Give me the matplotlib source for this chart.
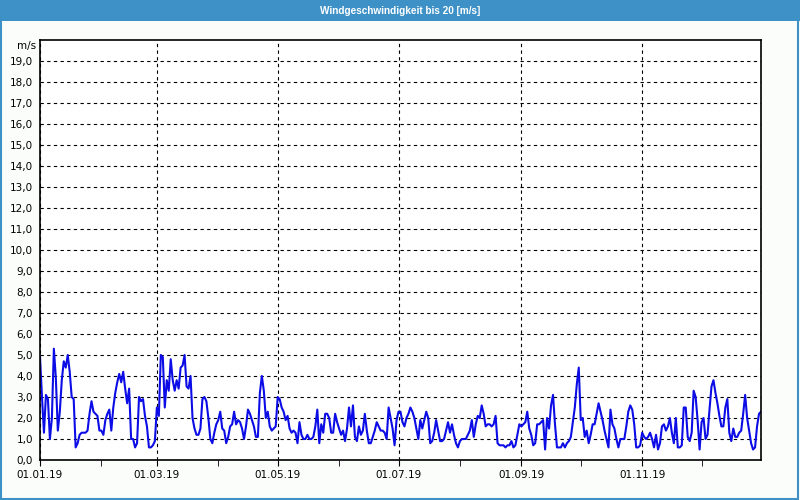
import numpy as np
import matplotlib
matplotlib.use('Agg')
import matplotlib.pyplot as plt
import matplotlib.dates as mdates
from matplotlib.patches import Rectangle

# Tageswerte Windgeschwindigkeit 2019 [m/s]
wind_speed = [
    4.9, 3.0, 1.3, 3.1, 2.9, 1.0, 2.0, 5.3, 3.9, 1.4,
    2.3, 3.8, 4.7, 4.4, 5.0, 4.2, 3.0, 2.9, 0.6, 0.8,
    1.2, 1.3, 1.3, 1.3, 1.4, 2.2, 2.8, 2.3, 2.2, 2.1,
    1.4, 1.4, 1.2, 1.9, 2.2, 2.4, 1.4, 2.5, 3.2, 3.7,
    4.1, 3.7, 4.2, 3.4, 2.7, 3.4, 1.0, 1.0, 0.6, 0.8,
    3.0, 2.8, 2.9, 2.1, 1.6, 0.6, 0.6, 0.7, 0.9, 2.5,
    2.1, 5.0, 4.9, 2.5, 3.8, 3.3, 4.8, 3.8, 3.3, 3.8,
    3.4, 4.4, 4.5, 5.0, 3.5, 3.4, 4.0, 2.0, 1.5, 1.2,
    1.2, 1.5, 2.9, 3.0, 2.8, 2.0, 1.0, 0.8, 1.3, 1.7,
    1.9, 2.3, 1.5, 1.4, 0.8, 1.1, 1.6, 1.7, 2.3, 1.7,
    1.9, 1.8, 1.5, 1.0, 1.6, 2.4, 2.2, 1.9, 1.6, 1.1,
    1.1, 3.2, 4.0, 3.3, 2.0, 2.3, 1.6, 1.4, 1.5, 1.6,
    3.0,
    2.9, 2.5, 2.3, 1.9, 2.1, 1.5, 1.3, 1.4, 1.3, 0.8,
    1.8, 1.2, 1.0, 1.0, 1.2, 1.0, 1.0, 1.1, 1.6, 2.4,
    0.8, 1.7, 1.3, 2.2, 2.2, 2.0, 1.3, 1.3, 2.2, 1.8,
    1.5, 1.2, 1.4, 0.9, 1.5, 2.5, 1.6, 2.6, 1.1, 0.9,
    1.6, 1.2, 1.4, 2.2, 1.4, 0.8, 0.8, 1.1, 1.4, 1.8,
    1.6, 1.4, 1.4, 1.3, 1.0, 2.5, 2.0, 1.5, 0.7, 1.9,
    2.3,
    2.3, 1.8, 1.6, 2.0, 2.2, 2.5, 2.3, 2.0, 1.5, 1.0,
    1.9, 1.5, 1.9, 2.3, 2.0, 0.8, 0.9, 1.3, 1.9, 1.4,
    0.9, 0.9, 1.0, 1.4, 1.8, 1.3, 1.7, 1.2, 0.8, 0.6,
    0.9, 1.0, 1.0, 1.0, 1.2, 1.4, 1.9, 1.1, 1.7, 2.1,
    2.0, 2.6, 2.2, 1.6, 1.7, 1.7, 1.6, 1.7, 2.1, 0.8,
    0.7, 0.7, 0.7, 0.6, 0.7, 0.7, 0.9, 0.6, 0.7, 1.2,
    1.7,
    1.6, 1.7, 1.8, 2.3, 1.5, 1.2, 0.7, 0.8, 1.7, 1.7,
    1.8, 1.9, 0.5, 2.0, 1.5, 2.6, 3.1, 1.7, 0.6, 0.6,
    0.6, 0.8, 0.6, 0.8, 0.9, 1.1, 1.8, 2.5, 3.6, 4.4,
    1.9, 2.0, 1.1, 1.4, 0.8, 1.2, 1.7, 1.7, 2.2, 2.7,
    2.3, 1.9, 1.4, 1.0, 0.6, 2.4, 1.7, 1.5, 1.0, 0.6,
    1.0, 1.0, 1.0, 1.6, 2.3, 2.6, 2.4, 1.7, 0.6, 0.6,
    0.7,
    1.3, 1.1, 1.0, 1.1, 1.3, 1.0, 0.6, 1.2, 0.5, 0.8,
    1.6, 1.7, 1.4, 1.6, 2.0, 1.3, 0.8, 2.0, 0.6, 0.6,
    0.7, 2.5, 2.5, 1.1, 0.9, 1.3, 3.3, 3.0, 1.9, 0.5,
    1.8, 2.0, 1.0, 1.2, 2.4, 3.5, 3.8, 3.2, 2.7, 2.1,
    1.6, 1.6, 2.5, 2.9, 1.3, 0.9, 1.5, 1.1, 1.1, 1.3,
    1.4, 2.2, 3.1, 2.0, 1.4, 0.8, 0.5, 0.6, 1.6, 2.2,
    2.3,
]
start_date = '2019-01-01'
y_ticks = list(range(0, 20))
y_labels = ['%d,0' % v for v in y_ticks]
title = 'Windgeschwindigkeit bis 20 [m/s]'
unit = 'm/s'

days = np.datetime64(start_date) + np.arange(len(wind_speed))

fig = plt.figure(figsize=(8, 5), dpi=100)
fig.patch.set_facecolor('#fbfdfb')

# Titelleiste + Rahmen
bar_col = '#3d91c7'
fig.add_artist(Rectangle((0, 1 - 21 / 500), 1, 21 / 500, transform=fig.transFigure,
                         facecolor=bar_col, edgecolor='none'))
fig.add_artist(Rectangle((0.001, 0.002), 0.997, 0.996, transform=fig.transFigure,
                         fill=False, edgecolor=bar_col, lw=1.5))
t = fig.text(0.5, 1 - 10.5 / 500, title, color='white', fontsize=8, fontweight='bold',
             family='Liberation Sans', ha='center', va='center')
# Titelbreite an Vorlage anpassen (~161 px)
fig.canvas.draw()
w = t.get_window_extent().width
t.set_fontsize(8 * 161 / w)

ax = fig.add_axes([40 / 800, 40 / 500, 721 / 800, 420 / 500])
ax.set_facecolor('white')
ax.plot(days, wind_speed, color='#0c0ce6', lw=1.5)

ax.set_ylim(0, 20)
ax.set_yticks(y_ticks)
ax.set_yticklabels(y_labels)
ax.set_xlim(np.datetime64('2019-01-01'), np.datetime64('2019-12-31'))
ax.xaxis.set_major_locator(mdates.MonthLocator(bymonth=[1, 3, 5, 7, 9, 11]))
ax.xaxis.set_minor_locator(mdates.MonthLocator())
ax.xaxis.set_major_formatter(mdates.DateFormatter('%d.%m.%y'))

ax.grid(True, which='major', axis='both', color='black', lw=0.8, ls=(0, (3, 3)))
ax.tick_params(axis='y', length=0, pad=5, labelsize=7.5)
ax.tick_params(axis='x', which='both', length=4, direction='out', labelsize=7.5, pad=3)
for s in ax.spines.values():
    s.set_linewidth(1.2)

ax.text(-0.006, 1.0 - 6 / 420, unit, transform=ax.transAxes, ha='right', va='center',
        fontsize=7.5)

fig.savefig('out.png', dpi=100, facecolor=fig.get_facecolor())
